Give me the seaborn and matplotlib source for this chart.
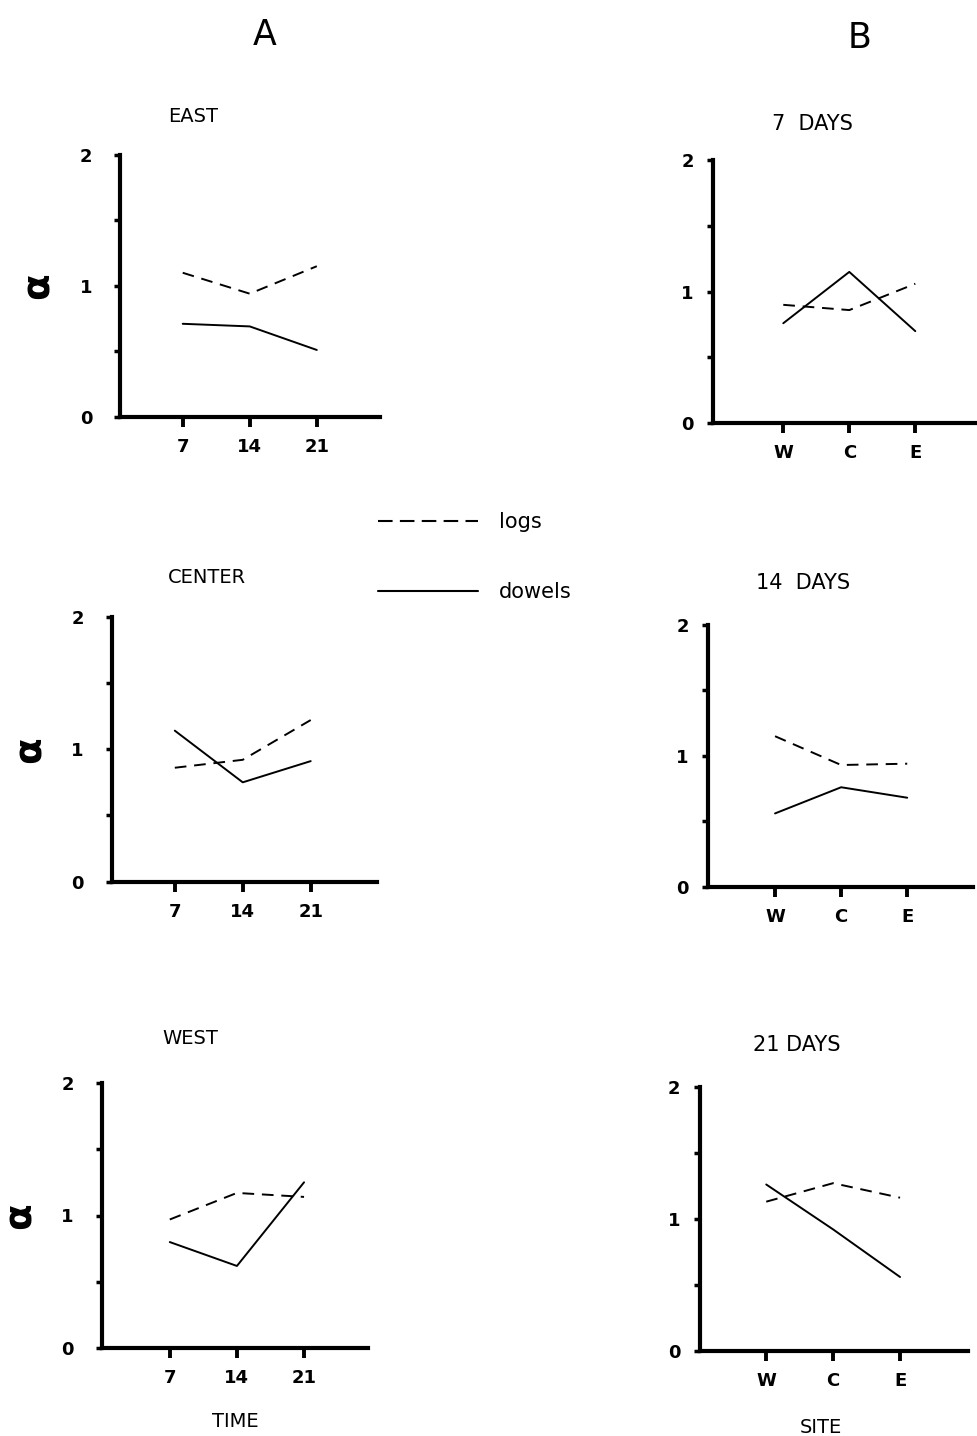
import matplotlib
matplotlib.use("Agg")
import matplotlib.pyplot as plt
from matplotlib.lines import Line2D
import seaborn as sns
import pandas as pd

# ---------------- data ----------------
days = [7, 14, 21]
sites = ["W", "C", "E"]

east_logs = [1.10, 0.94, 1.15]
east_dowels = [0.71, 0.69, 0.51]
center_logs = [0.86, 0.92, 1.22]
center_dowels = [1.14, 0.75, 0.91]
west_logs = [0.97, 1.17, 1.14]
west_dowels = [0.80, 0.62, 1.25]

d7_logs = [0.90, 0.86, 1.06]
d7_dowels = [0.76, 1.15, 0.70]
d14_logs = [1.15, 0.93, 0.94]
d14_dowels = [0.56, 0.76, 0.68]
d21_logs = [1.13, 1.27, 1.16]
d21_dowels = [1.26, 0.92, 0.56]

panel_titles_A = ["EAST", "CENTER", "WEST"]
panel_titles_B = ["7  DAYS", "14  DAYS", "21 DAYS"]
yticks_major = [0, 1, 2]
yticks_minor = [0.5, 1.5]

# ---------------- style ----------------
sns.set_style("white")
plt.rcParams["font.family"] = ["DejaVu Sans"]
plt.rcParams["axes.linewidth"] = 3.0
for key in ["text.color", "axes.labelcolor", "xtick.color", "ytick.color", "axes.edgecolor"]:
    plt.rcParams[key] = "black"

W, H = 978, 1436
fig = plt.figure(figsize=(W / 100, H / 100), dpi=100)


def px_axes(left, top, right, bottom):
    return fig.add_axes([left / W, 1 - bottom / H, (right - left) / W, (bottom - top) / H])


DASHES = {"logs": (6, 4), "dowels": ""}


def draw(ax, xs, logs, dowels, xlim, ticklabels, ypad):
    df = pd.DataFrame({
        "x": list(xs) * 2,
        "alpha": list(logs) + list(dowels),
        "material": ["logs"] * len(logs) + ["dowels"] * len(dowels),
    })
    sns.lineplot(data=df, x="x", y="alpha", style="material", dashes=DASHES,
                 style_order=["logs", "dowels"], color="black", linewidth=1.4,
                 legend=False, ax=ax)
    ax.set_xlim(*xlim)
    ax.set_ylim(0, 2)
    ax.set_xticks(list(xs))
    ax.set_xticklabels(ticklabels)
    ax.set_yticks(yticks_major)
    ax.set_yticks(yticks_minor, minor=True)
    for s in ["top", "right"]:
        ax.spines[s].set_visible(False)
    for s in ["left", "bottom"]:
        ax.spines[s].set_color("black")
        ax.spines[s].set_linewidth(3.0)
    ax.tick_params(axis="x", which="major", direction="out", length=7, width=2.8,
                   labelsize=13, pad=8, bottom=True)
    ax.tick_params(axis="y", which="both", direction="out", length=4, width=2.5,
                   labelsize=13, pad=ypad, left=True)
    for lab in ax.get_xticklabels() + ax.get_yticklabels():
        lab.set_fontweight("bold")
    ax.set_xlabel("")
    ax.set_ylabel("")


# column A (time)
A_px = [(120, 155, 380, 416.7), (111.7, 616.7, 376.7, 881.7), (101.7, 1082.7, 368.3, 1348.3)]
axA = [px_axes(*p) for p in A_px]
A_data = [(east_logs, east_dowels), (center_logs, center_dowels), (west_logs, west_dowels)]
A_xlims = [(0.45, 27.6), (0.5, 27.8), (-0.1, 27.7)]
for ax, (lg, dw), xl, p in zip(axA, A_data, A_xlims, A_px):
    draw(ax, days, lg, dw, xl, [str(d) for d in days], 16)
    ax.set_ylabel("α", fontsize=28, fontweight="bold")
    ax.yaxis.label.set_verticalalignment("center")
    ax.yaxis.set_label_coords(-82 / (p[2] - p[0]), 0.5)

# column B (site)
B_px = [(713.3, 160, 976.7, 423.3), (708.3, 625, 973.3, 886.7), (700, 1086.7, 968.3, 1351)]
axB = [px_axes(*p) for p in B_px]
B_data = [(d7_logs, d7_dowels), (d14_logs, d14_dowels), (d21_logs, d21_dowels)]
B_xlims = [(-1.06, 2.93), (-1.01, 3.0), (-0.99, 3.02)]
site_pos = list(range(len(sites)))
for ax, (lg, dw), xl in zip(axB, B_data, B_xlims):
    draw(ax, site_pos, lg, dw, xl, sites, 10)

axA[2].set_xlabel("TIME", fontsize=14, labelpad=18)
axB[2].set_xlabel("SITE", fontsize=14, labelpad=20)
axB[2].xaxis.label.set_x(0.45)

# panel titles
title_pos_A = [(193, 117), (207, 578), (190, 1038)]
title_pos_B = [(812, 124), (803, 583), (797, 1045)]
for t, (x, y) in zip(panel_titles_A, title_pos_A):
    fig.text(x / W, 1 - y / H, t, ha="center", va="center", fontsize=14)
for t, (x, y) in zip(panel_titles_B, title_pos_B):
    fig.text(x / W, 1 - y / H, t, ha="center", va="center", fontsize=15)

# column headers
fig.text(265 / W, 1 - 35 / H, "A", ha="center", va="center", fontsize=25)
fig.text(860 / W, 1 - 38 / H, "B", ha="center", va="center", fontsize=25)

# legend
handles = [
    Line2D([], [], color="black", linewidth=1.5, linestyle=(0, (7, 3.5))),
    Line2D([], [], color="black", linewidth=1.5, linestyle="-"),
]
fig.legend(handles, ["logs", "dowels"], loc="upper left",
           bbox_to_anchor=(378 / W, 1 - 512 / H), frameon=False,
           fontsize=15, handlelength=4.8, handletextpad=1.0,
           labelspacing=2.4, borderpad=0, borderaxespad=0)

fig.savefig("out.png", dpi=100, facecolor="white")
